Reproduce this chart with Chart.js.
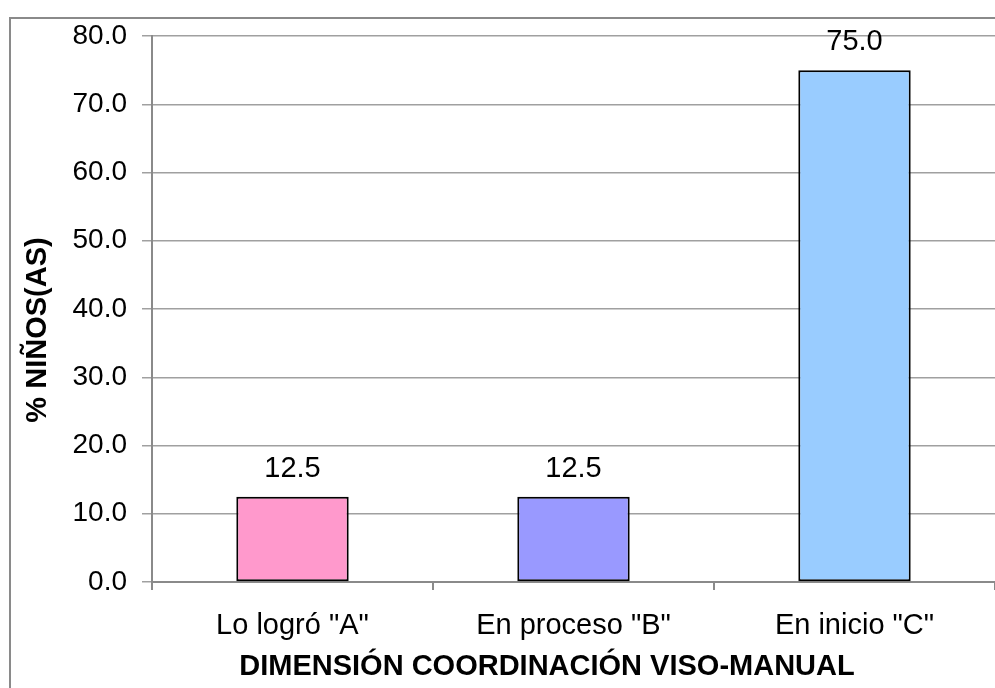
<!DOCTYPE html>
<html lang="es">
<head>
<meta charset="UTF-8">
<title>Dimensión coordinación viso-manual</title>
<script src="https://cdn.jsdelivr.net/npm/chart.js"></script>
<style>
    html, body { margin: 0; padding: 0; background: #fff; overflow: hidden; }
    #wrap { width: 995px; height: 688px; }
</style>
</head>
<body>
<div id="wrap"><canvas id="chart" width="995" height="688"></canvas></div>
<script>
const categories = ['Lo logró "A"', 'En proceso "B"', 'En inicio "C"'];
const values = [12.5, 12.5, 75.0];
const barColors = ['#FF99CC', '#9999FF', '#99CCFF'];
const yTicks = [0, 10, 20, 30, 40, 50, 60, 70, 80];
const xTitle = 'DIMENSIÓN COORDINACIÓN VISO-MANUAL';
const yTitle = '% NIÑOS(AS)';

const FONT = '"Liberation Sans", Arial, sans-serif';

// marco exterior gris
const framePlugin = {
    id: 'frame',
    beforeDraw(chart) {
        const ctx = chart.ctx;
        ctx.save();
        ctx.strokeStyle = '#8a8a8a';
        ctx.lineWidth = 2;
        ctx.beginPath();
        ctx.moveTo(10, 688);
        ctx.lineTo(10, 18);
        ctx.lineTo(995, 18);
        ctx.stroke();
        ctx.restore();
    }
};

// títulos de ejes (centrados como en el original, no sobre el área del gráfico)
const axisTitles = {
    id: 'axisTitles',
    afterDraw(chart) {
        const ctx = chart.ctx;
        ctx.save();
        ctx.font = 'bold 29px ' + FONT;
        ctx.fillStyle = '#000';
        ctx.textAlign = 'center';
        ctx.textBaseline = 'middle';
        ctx.fillText(xTitle, 547, 667);
        ctx.translate(38, 330);
        ctx.rotate(-Math.PI / 2);
        ctx.fillText(yTitle, 0, 0);
        ctx.restore();
    }
};

// etiquetas de valor encima de cada barra
const valueLabels = {
    id: 'valueLabels',
    afterDatasetsDraw(chart) {
        const ctx = chart.ctx;
        const meta = chart.getDatasetMeta(0);
        ctx.save();
        ctx.font = '29px ' + FONT;
        ctx.fillStyle = '#000';
        ctx.textAlign = 'center';
        ctx.textBaseline = 'middle';
        meta.data.forEach((bar, i) => {
            ctx.fillText(values[i].toFixed(1), bar.x, bar.y - 28);
        });
        ctx.restore();
    }
};

new Chart(document.getElementById('chart'), {
    type: 'bar',
    data: {
        labels: categories,
        datasets: [{
            data: values,
            backgroundColor: barColors,
            borderColor: '#000',
            borderWidth: 2,
            borderSkipped: false,
            barPercentage: 0.4,
            categoryPercentage: 1.0
        }]
    },
    options: {
        responsive: false,
        animation: false,
        layout: { padding: { top: 36, right: 0, bottom: 0, left: 0 } },
        plugins: {
            legend: { display: false },
            tooltip: { enabled: false }
        },
        scales: {
            x: {
                afterFit(scale) { scale.height = 106; },
                grid: {
                    offset: true,
                    drawOnChartArea: false,
                    drawTicks: true,
                    tickLength: 8,
                    color: '#8a8a8a',
                    lineWidth: 2
                },
                border: { color: '#8a8a8a', width: 2 },
                ticks: {
                    color: '#000',
                    padding: 19,
                    maxRotation: 0,
                    font: { family: FONT, size: 29 }
                }
            },
            y: {
                min: 0,
                max: 80,
                afterFit(scale) { scale.width = 152; },
                afterBuildTicks(scale) { scale.ticks = yTicks.map(v => ({ value: v })); },
                grid: {
                    color: '#a0a0a0',
                    lineWidth: 1.5,
                    tickLength: 10
                },
                border: { color: '#8a8a8a', width: 2 },
                ticks: {
                    color: '#000',
                    padding: 15,
                    font: { family: FONT, size: 28 },
                    callback: v => Number(v).toFixed(1)
                }
            }
        }
    },
    plugins: [framePlugin, axisTitles, valueLabels]
});
</script>
</body>
</html>
